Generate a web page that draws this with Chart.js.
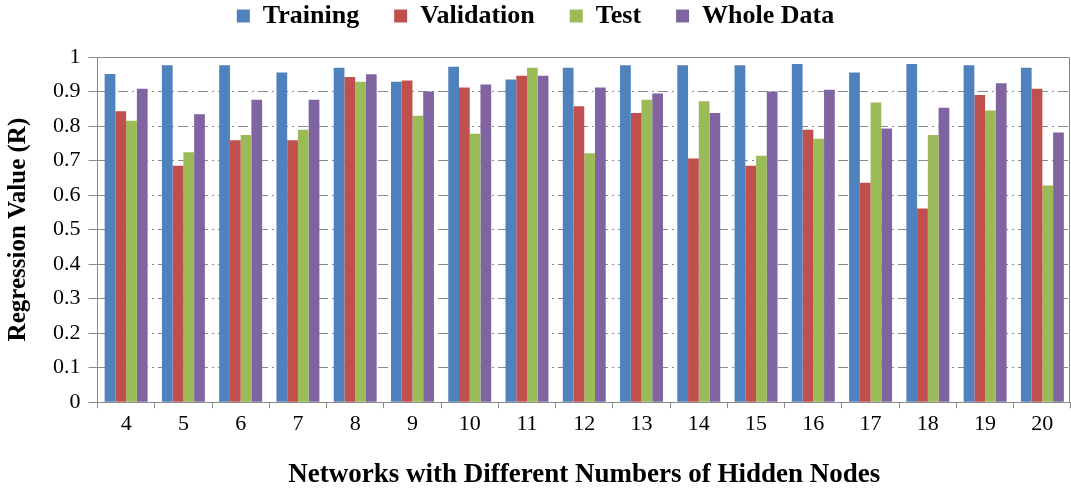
<!DOCTYPE html>
<html>
<head>
<meta charset="utf-8">
<script src="https://cdn.jsdelivr.net/npm/chart.js@4"></script>
<style>
  html, body { margin: 0; padding: 0; background: #fff; }
  #wrap { width: 1071px; height: 488px; }
</style>
</head>
<body>
<div id="wrap"><canvas id="chart" width="1071" height="488"></canvas></div>
<script>
const nodes = ["4", "5", "6", "7", "8", "9", "10", "11", "12", "13", "14", "15", "16", "17", "18", "19", "20"];
const training   = [0.951, 0.976, 0.976, 0.955, 0.969, 0.928, 0.972, 0.935, 0.969, 0.976, 0.976, 0.976, 0.980, 0.955, 0.980, 0.976, 0.969];
const validation = [0.843, 0.685, 0.759, 0.759, 0.942, 0.932, 0.912, 0.946, 0.857, 0.838, 0.706, 0.685, 0.789, 0.636, 0.561, 0.890, 0.908];
const test       = [0.815, 0.724, 0.774, 0.789, 0.928, 0.830, 0.778, 0.969, 0.721, 0.876, 0.872, 0.714, 0.763, 0.868, 0.774, 0.845, 0.628];
const wholeData  = [0.908, 0.834, 0.876, 0.876, 0.950, 0.900, 0.920, 0.946, 0.912, 0.894, 0.838, 0.900, 0.905, 0.793, 0.853, 0.924, 0.781];

const serif = "'Liberation Serif', 'Times New Roman', serif";
const axisGrey = "#8a8a8a";

// frame around plot area (top and right border like the original)
const frame = {
    id: "frame",
    afterDraw(chart) {
        const a = chart.chartArea;
        const ctx = chart.ctx;
        ctx.save();
        ctx.strokeStyle = axisGrey;
        ctx.lineWidth = 1;
        ctx.beginPath();
        ctx.moveTo(a.left, a.top + 0.5);
        ctx.lineTo(a.right - 1.5, a.top + 0.5);
        ctx.lineTo(a.right - 1.5, a.bottom);
        ctx.stroke();
        ctx.restore();
    }
};

// extra gap between the legend and the plot
const legendGap = {
    id: "legendGap",
    afterInit(chart) {
        const fit = chart.legend.fit;
        chart.legend.fit = function () {
            fit.call(this);
            this.height += 18;
        };
    }
};

function ds(label, data, color) {
    return { label: label, data: data, backgroundColor: color, borderWidth: 0,
             barPercentage: 1.0, categoryPercentage: 0.75 };
}

new Chart(document.getElementById("chart"), {
    type: "bar",
    data: {
        labels: nodes,
        datasets: [
            ds("Training", training, "#4f81bd"),
            ds("Validation", validation, "#c0504d"),
            ds("Test", test, "#9bbb59"),
            ds("Whole Data", wholeData, "#8064a2")
        ]
    },
    plugins: [frame, legendGap],
    options: {
        responsive: false,
        animation: false,
        layout: { padding: { left: 0, right: 0, top: -32, bottom: -3 } },
        plugins: {
            legend: {
                position: "top",
                labels: {
                    boxWidth: 13, boxHeight: 13, padding: 35,
                    color: "#000",
                    font: { family: serif, size: 26, weight: "bold" }
                }
            },
            tooltip: { enabled: false }
        },
        scales: {
            x: {
                grid: { offset: true, drawOnChartArea: false, drawTicks: true, tickLength: 6, color: axisGrey },
                border: { color: axisGrey },
                ticks: { color: "#000", font: { family: serif, size: 22 }, padding: 3 },
                title: { display: true, text: "Networks with Different Numbers of Hidden Nodes",
                         color: "#000", font: { family: serif, size: 27, weight: "bold" }, padding: { top: 18, bottom: 0 } }
            },
            y: {
                min: 0, max: 1,
                ticks: {
                    stepSize: 0.1, color: "#000", font: { family: serif, size: 22 }, padding: 8,
                    callback: v => String(Number(v.toFixed(1)))
                },
                grid: { color: axisGrey, tickLength: 9, tickBorderDash: [] },
                border: { color: axisGrey, dash: [10, 4, 2, 4] },
                title: { display: true, text: "Regression Value (R)",
                         color: "#000", font: { family: serif, size: 25, weight: "bold" }, padding: { top: 4, bottom: 11 } }
            }
        }
    }
});
</script>
</body>
</html>
